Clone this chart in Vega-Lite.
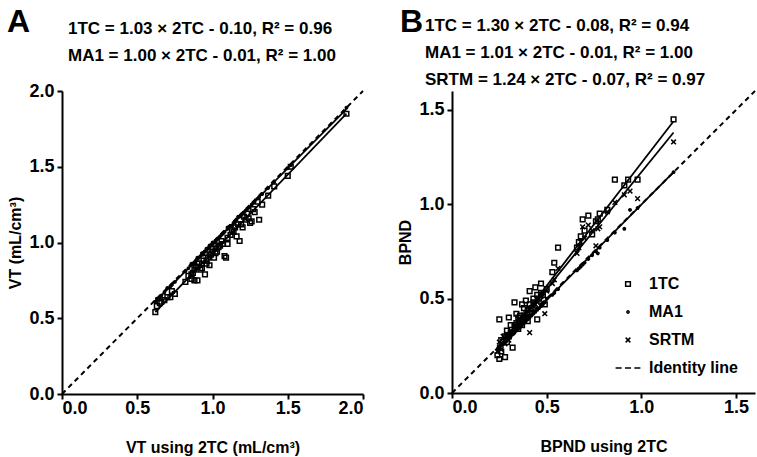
{
  "$schema": "https://vega.github.io/schema/vega-lite/v6.json",
  "padding": {"left": 7, "top": 5, "right": 0, "bottom": 3},
  "background": "white",
  "datasets": {
    "idA": [{"x": 0, "y": 0}, {"x": 2, "y": 2}],
    "idB": [{"x": 0, "y": 0}, {"x": 1.6, "y": 1.6}],
    "linesA": [
      {"s": "1TC", "x": 0.62, "y": 0.54}, {"s": "1TC", "x": 1.89, "y": 1.85},
      {"s": "MA1", "x": 0.62, "y": 0.61}, {"s": "MA1", "x": 1.89, "y": 1.88}
    ],
    "linesB": [
      {"s": "1TC", "x": 0.24, "y": 0.23}, {"s": "1TC", "x": 1.17, "y": 1.44},
      {"s": "MA1", "x": 0.24, "y": 0.23}, {"s": "MA1", "x": 1.17, "y": 1.17},
      {"s": "SRTM", "x": 0.24, "y": 0.23}, {"s": "SRTM", "x": 1.17, "y": 1.38}
    ],
    "ptsA": [
      {"s": "1TC", "x": 0.62, "y": 0.54}, {"s": "1TC", "x": 0.63, "y": 0.58}, {"s": "1TC", "x": 0.65, "y": 0.6},
      {"s": "1TC", "x": 0.66, "y": 0.61}, {"s": "1TC", "x": 0.68, "y": 0.62}, {"s": "1TC", "x": 0.7, "y": 0.64},
      {"s": "1TC", "x": 0.72, "y": 0.64}, {"s": "1TC", "x": 0.73, "y": 0.68}, {"s": "1TC", "x": 0.75, "y": 0.66},
      {"s": "1TC", "x": 0.82, "y": 0.74}, {"s": "1TC", "x": 0.84, "y": 0.78}, {"s": "1TC", "x": 0.86, "y": 0.76},
      {"s": "1TC", "x": 0.87, "y": 0.8}, {"s": "1TC", "x": 0.88, "y": 0.75}, {"s": "1TC", "x": 0.89, "y": 0.84},
      {"s": "1TC", "x": 0.9, "y": 0.75}, {"s": "1TC", "x": 0.91, "y": 0.86}, {"s": "1TC", "x": 0.92, "y": 0.82},
      {"s": "1TC", "x": 0.93, "y": 0.86}, {"s": "1TC", "x": 0.95, "y": 0.79}, {"s": "1TC", "x": 0.96, "y": 0.88},
      {"s": "1TC", "x": 0.97, "y": 0.9}, {"s": "1TC", "x": 0.98, "y": 0.85}, {"s": "1TC", "x": 0.99, "y": 0.92},
      {"s": "1TC", "x": 1.0, "y": 0.94}, {"s": "1TC", "x": 1.01, "y": 0.9}, {"s": "1TC", "x": 1.02, "y": 0.96},
      {"s": "1TC", "x": 1.03, "y": 0.94}, {"s": "1TC", "x": 1.05, "y": 0.98}, {"s": "1TC", "x": 1.07, "y": 0.99},
      {"s": "1TC", "x": 1.08, "y": 0.91}, {"s": "1TC", "x": 1.09, "y": 0.9}, {"s": "1TC", "x": 1.1, "y": 0.99},
      {"s": "1TC", "x": 1.12, "y": 1.05}, {"s": "1TC", "x": 1.14, "y": 1.07}, {"s": "1TC", "x": 1.16, "y": 1.04},
      {"s": "1TC", "x": 1.18, "y": 1.01}, {"s": "1TC", "x": 1.19, "y": 1.12}, {"s": "1TC", "x": 1.2, "y": 1.1},
      {"s": "1TC", "x": 1.22, "y": 1.15}, {"s": "1TC", "x": 1.24, "y": 1.16}, {"s": "1TC", "x": 1.25, "y": 1.13},
      {"s": "1TC", "x": 1.26, "y": 1.14}, {"s": "1TC", "x": 1.28, "y": 1.2}, {"s": "1TC", "x": 1.31, "y": 1.15},
      {"s": "1TC", "x": 1.33, "y": 1.25}, {"s": "1TC", "x": 1.37, "y": 1.31}, {"s": "1TC", "x": 1.41, "y": 1.37},
      {"s": "1TC", "x": 1.5, "y": 1.44}, {"s": "1TC", "x": 1.52, "y": 1.5}, {"s": "1TC", "x": 1.89, "y": 1.85},
      {"s": "1TC", "x": 0.86, "y": 0.79}, {"s": "1TC", "x": 0.88, "y": 0.82}, {"s": "1TC", "x": 0.9, "y": 0.84},
      {"s": "1TC", "x": 0.93, "y": 0.83}, {"s": "1TC", "x": 0.94, "y": 0.88}, {"s": "1TC", "x": 0.96, "y": 0.86},
      {"s": "1TC", "x": 0.98, "y": 0.92}, {"s": "1TC", "x": 1.0, "y": 0.96}, {"s": "1TC", "x": 1.02, "y": 0.93},
      {"s": "1TC", "x": 1.04, "y": 0.97}, {"s": "1TC", "x": 1.06, "y": 1.01}, {"s": "1TC", "x": 1.1, "y": 1.03},
      {"s": "1TC", "x": 1.13, "y": 1.08}, {"s": "1TC", "x": 1.15, "y": 1.1}, {"s": "1TC", "x": 1.17, "y": 1.12},
      {"s": "1TC", "x": 1.21, "y": 1.17}, {"s": "1TC", "x": 1.23, "y": 1.19}, {"s": "1TC", "x": 1.27, "y": 1.22},
      {"s": "1TC", "x": 1.3, "y": 1.27},
      {"s": "MA1", "x": 0.62, "y": 0.61}, {"s": "MA1", "x": 0.63, "y": 0.63}, {"s": "MA1", "x": 0.65, "y": 0.64},
      {"s": "MA1", "x": 0.66, "y": 0.65}, {"s": "MA1", "x": 0.68, "y": 0.67}, {"s": "MA1", "x": 0.7, "y": 0.7},
      {"s": "MA1", "x": 0.72, "y": 0.71}, {"s": "MA1", "x": 0.73, "y": 0.72}, {"s": "MA1", "x": 0.75, "y": 0.74},
      {"s": "MA1", "x": 0.82, "y": 0.81}, {"s": "MA1", "x": 0.84, "y": 0.83}, {"s": "MA1", "x": 0.86, "y": 0.85},
      {"s": "MA1", "x": 0.87, "y": 0.86}, {"s": "MA1", "x": 0.88, "y": 0.87}, {"s": "MA1", "x": 0.89, "y": 0.88},
      {"s": "MA1", "x": 0.9, "y": 0.89}, {"s": "MA1", "x": 0.91, "y": 0.9}, {"s": "MA1", "x": 0.92, "y": 0.91},
      {"s": "MA1", "x": 0.93, "y": 0.92}, {"s": "MA1", "x": 0.95, "y": 0.94}, {"s": "MA1", "x": 0.96, "y": 0.95},
      {"s": "MA1", "x": 0.97, "y": 0.96}, {"s": "MA1", "x": 0.98, "y": 0.97}, {"s": "MA1", "x": 0.99, "y": 0.98},
      {"s": "MA1", "x": 1.0, "y": 0.99}, {"s": "MA1", "x": 1.01, "y": 1.0}, {"s": "MA1", "x": 1.02, "y": 1.01},
      {"s": "MA1", "x": 1.03, "y": 1.02}, {"s": "MA1", "x": 1.05, "y": 1.04}, {"s": "MA1", "x": 1.07, "y": 1.06},
      {"s": "MA1", "x": 1.08, "y": 1.07}, {"s": "MA1", "x": 1.1, "y": 1.09}, {"s": "MA1", "x": 1.12, "y": 1.11},
      {"s": "MA1", "x": 1.14, "y": 1.13}, {"s": "MA1", "x": 1.16, "y": 1.15}, {"s": "MA1", "x": 1.18, "y": 1.17},
      {"s": "MA1", "x": 1.19, "y": 1.18}, {"s": "MA1", "x": 1.2, "y": 1.19}, {"s": "MA1", "x": 1.22, "y": 1.21},
      {"s": "MA1", "x": 1.24, "y": 1.23}, {"s": "MA1", "x": 1.26, "y": 1.25}, {"s": "MA1", "x": 1.28, "y": 1.27},
      {"s": "MA1", "x": 1.31, "y": 1.3}, {"s": "MA1", "x": 1.33, "y": 1.32}, {"s": "MA1", "x": 1.37, "y": 1.36},
      {"s": "MA1", "x": 1.41, "y": 1.4}, {"s": "MA1", "x": 1.5, "y": 1.49}, {"s": "MA1", "x": 1.52, "y": 1.51},
      {"s": "MA1", "x": 1.89, "y": 1.89},
      {"s": "MA1", "x": 0.86, "y": 0.86}, {"s": "MA1", "x": 0.88, "y": 0.86}, {"s": "MA1", "x": 0.9, "y": 0.9},
      {"s": "MA1", "x": 0.93, "y": 0.93}, {"s": "MA1", "x": 0.94, "y": 0.92}, {"s": "MA1", "x": 0.96, "y": 0.96},
      {"s": "MA1", "x": 0.98, "y": 0.98}, {"s": "MA1", "x": 1.0, "y": 1.0}, {"s": "MA1", "x": 1.02, "y": 1.0},
      {"s": "MA1", "x": 1.04, "y": 1.03}, {"s": "MA1", "x": 1.06, "y": 1.05}, {"s": "MA1", "x": 1.1, "y": 1.1},
      {"s": "MA1", "x": 1.13, "y": 1.11}, {"s": "MA1", "x": 1.15, "y": 1.14}, {"s": "MA1", "x": 1.17, "y": 1.17},
      {"s": "MA1", "x": 1.21, "y": 1.2}, {"s": "MA1", "x": 1.23, "y": 1.22}, {"s": "MA1", "x": 1.27, "y": 1.26},
      {"s": "MA1", "x": 1.3, "y": 1.29}
    ],
    "ptsB": [
      {"s": "1TC", "x": 0.24, "y": 0.2}, {"s": "1TC", "x": 0.25, "y": 0.39}, {"s": "1TC", "x": 0.25, "y": 0.18},
      {"s": "1TC", "x": 0.26, "y": 0.22}, {"s": "1TC", "x": 0.27, "y": 0.27}, {"s": "1TC", "x": 0.28, "y": 0.19},
      {"s": "1TC", "x": 0.28, "y": 0.3}, {"s": "1TC", "x": 0.29, "y": 0.27}, {"s": "1TC", "x": 0.3, "y": 0.4},
      {"s": "1TC", "x": 0.3, "y": 0.3}, {"s": "1TC", "x": 0.31, "y": 0.32}, {"s": "1TC", "x": 0.32, "y": 0.24},
      {"s": "1TC", "x": 0.33, "y": 0.48}, {"s": "1TC", "x": 0.33, "y": 0.36}, {"s": "1TC", "x": 0.34, "y": 0.37},
      {"s": "1TC", "x": 0.35, "y": 0.34}, {"s": "1TC", "x": 0.35, "y": 0.4}, {"s": "1TC", "x": 0.36, "y": 0.38},
      {"s": "1TC", "x": 0.37, "y": 0.47}, {"s": "1TC", "x": 0.37, "y": 0.36}, {"s": "1TC", "x": 0.38, "y": 0.41},
      {"s": "1TC", "x": 0.39, "y": 0.49}, {"s": "1TC", "x": 0.4, "y": 0.44}, {"s": "1TC", "x": 0.4, "y": 0.38},
      {"s": "1TC", "x": 0.41, "y": 0.54}, {"s": "1TC", "x": 0.42, "y": 0.45}, {"s": "1TC", "x": 0.43, "y": 0.48},
      {"s": "1TC", "x": 0.44, "y": 0.56}, {"s": "1TC", "x": 0.45, "y": 0.39}, {"s": "1TC", "x": 0.46, "y": 0.5},
      {"s": "1TC", "x": 0.47, "y": 0.58}, {"s": "1TC", "x": 0.48, "y": 0.52}, {"s": "1TC", "x": 0.49, "y": 0.47},
      {"s": "1TC", "x": 0.5, "y": 0.55}, {"s": "1TC", "x": 0.53, "y": 0.64}, {"s": "1TC", "x": 0.54, "y": 0.69},
      {"s": "1TC", "x": 0.56, "y": 0.77}, {"s": "1TC", "x": 0.66, "y": 0.77}, {"s": "1TC", "x": 0.67, "y": 0.8},
      {"s": "1TC", "x": 0.68, "y": 0.83}, {"s": "1TC", "x": 0.69, "y": 0.92}, {"s": "1TC", "x": 0.7, "y": 0.86},
      {"s": "1TC", "x": 0.72, "y": 0.94}, {"s": "1TC", "x": 0.74, "y": 0.84}, {"s": "1TC", "x": 0.76, "y": 0.91},
      {"s": "1TC", "x": 0.77, "y": 0.92}, {"s": "1TC", "x": 0.78, "y": 0.95}, {"s": "1TC", "x": 0.82, "y": 0.97},
      {"s": "1TC", "x": 0.86, "y": 1.13}, {"s": "1TC", "x": 0.91, "y": 1.1}, {"s": "1TC", "x": 0.93, "y": 1.13},
      {"s": "1TC", "x": 0.98, "y": 1.13}, {"s": "1TC", "x": 1.17, "y": 1.45},
      {"s": "1TC", "x": 0.26, "y": 0.28}, {"s": "1TC", "x": 0.29, "y": 0.33}, {"s": "1TC", "x": 0.31, "y": 0.36},
      {"s": "1TC", "x": 0.34, "y": 0.42}, {"s": "1TC", "x": 0.36, "y": 0.41}, {"s": "1TC", "x": 0.38, "y": 0.45},
      {"s": "1TC", "x": 0.41, "y": 0.47}, {"s": "1TC", "x": 0.43, "y": 0.5}, {"s": "1TC", "x": 0.45, "y": 0.52},
      {"s": "1TC", "x": 0.47, "y": 0.53},
      {"s": "MA1", "x": 0.24, "y": 0.23}, {"s": "MA1", "x": 0.25, "y": 0.24}, {"s": "MA1", "x": 0.25, "y": 0.25},
      {"s": "MA1", "x": 0.26, "y": 0.25}, {"s": "MA1", "x": 0.27, "y": 0.26}, {"s": "MA1", "x": 0.28, "y": 0.27},
      {"s": "MA1", "x": 0.28, "y": 0.28}, {"s": "MA1", "x": 0.29, "y": 0.28}, {"s": "MA1", "x": 0.3, "y": 0.29},
      {"s": "MA1", "x": 0.3, "y": 0.3}, {"s": "MA1", "x": 0.31, "y": 0.3}, {"s": "MA1", "x": 0.32, "y": 0.31},
      {"s": "MA1", "x": 0.33, "y": 0.32}, {"s": "MA1", "x": 0.33, "y": 0.33}, {"s": "MA1", "x": 0.34, "y": 0.33},
      {"s": "MA1", "x": 0.35, "y": 0.34}, {"s": "MA1", "x": 0.35, "y": 0.35}, {"s": "MA1", "x": 0.36, "y": 0.35},
      {"s": "MA1", "x": 0.37, "y": 0.36}, {"s": "MA1", "x": 0.37, "y": 0.37}, {"s": "MA1", "x": 0.38, "y": 0.37},
      {"s": "MA1", "x": 0.39, "y": 0.38}, {"s": "MA1", "x": 0.4, "y": 0.39}, {"s": "MA1", "x": 0.4, "y": 0.4},
      {"s": "MA1", "x": 0.41, "y": 0.4}, {"s": "MA1", "x": 0.42, "y": 0.41}, {"s": "MA1", "x": 0.43, "y": 0.42},
      {"s": "MA1", "x": 0.44, "y": 0.43}, {"s": "MA1", "x": 0.45, "y": 0.44}, {"s": "MA1", "x": 0.46, "y": 0.45},
      {"s": "MA1", "x": 0.47, "y": 0.46}, {"s": "MA1", "x": 0.48, "y": 0.47}, {"s": "MA1", "x": 0.49, "y": 0.48},
      {"s": "MA1", "x": 0.5, "y": 0.5}, {"s": "MA1", "x": 0.53, "y": 0.52}, {"s": "MA1", "x": 0.54, "y": 0.53},
      {"s": "MA1", "x": 0.56, "y": 0.55}, {"s": "MA1", "x": 0.66, "y": 0.65}, {"s": "MA1", "x": 0.67, "y": 0.66},
      {"s": "MA1", "x": 0.68, "y": 0.67}, {"s": "MA1", "x": 0.69, "y": 0.68}, {"s": "MA1", "x": 0.7, "y": 0.69},
      {"s": "MA1", "x": 0.72, "y": 0.71}, {"s": "MA1", "x": 0.74, "y": 0.73}, {"s": "MA1", "x": 0.76, "y": 0.75},
      {"s": "MA1", "x": 0.77, "y": 0.74}, {"s": "MA1", "x": 0.78, "y": 0.77}, {"s": "MA1", "x": 0.82, "y": 0.81},
      {"s": "MA1", "x": 0.86, "y": 0.85}, {"s": "MA1", "x": 0.91, "y": 0.87}, {"s": "MA1", "x": 0.94, "y": 0.97},
      {"s": "MA1", "x": 0.98, "y": 0.98}, {"s": "MA1", "x": 1.17, "y": 1.17},
      {"s": "MA1", "x": 0.26, "y": 0.26}, {"s": "MA1", "x": 0.29, "y": 0.29}, {"s": "MA1", "x": 0.31, "y": 0.31},
      {"s": "MA1", "x": 0.34, "y": 0.34}, {"s": "MA1", "x": 0.36, "y": 0.36}, {"s": "MA1", "x": 0.38, "y": 0.38},
      {"s": "MA1", "x": 0.41, "y": 0.41}, {"s": "MA1", "x": 0.43, "y": 0.43}, {"s": "MA1", "x": 0.45, "y": 0.45},
      {"s": "MA1", "x": 0.47, "y": 0.47},
      {"s": "SRTM", "x": 0.24, "y": 0.22}, {"s": "SRTM", "x": 0.25, "y": 0.24}, {"s": "SRTM", "x": 0.25, "y": 0.27},
      {"s": "SRTM", "x": 0.26, "y": 0.23}, {"s": "SRTM", "x": 0.27, "y": 0.3}, {"s": "SRTM", "x": 0.28, "y": 0.28},
      {"s": "SRTM", "x": 0.28, "y": 0.26}, {"s": "SRTM", "x": 0.29, "y": 0.29}, {"s": "SRTM", "x": 0.3, "y": 0.31},
      {"s": "SRTM", "x": 0.3, "y": 0.28}, {"s": "SRTM", "x": 0.31, "y": 0.33}, {"s": "SRTM", "x": 0.32, "y": 0.32},
      {"s": "SRTM", "x": 0.33, "y": 0.35}, {"s": "SRTM", "x": 0.33, "y": 0.34}, {"s": "SRTM", "x": 0.34, "y": 0.36},
      {"s": "SRTM", "x": 0.35, "y": 0.37}, {"s": "SRTM", "x": 0.35, "y": 0.39}, {"s": "SRTM", "x": 0.36, "y": 0.37},
      {"s": "SRTM", "x": 0.37, "y": 0.4}, {"s": "SRTM", "x": 0.37, "y": 0.38}, {"s": "SRTM", "x": 0.38, "y": 0.4},
      {"s": "SRTM", "x": 0.39, "y": 0.42}, {"s": "SRTM", "x": 0.4, "y": 0.43}, {"s": "SRTM", "x": 0.4, "y": 0.41},
      {"s": "SRTM", "x": 0.41, "y": 0.32}, {"s": "SRTM", "x": 0.42, "y": 0.45}, {"s": "SRTM", "x": 0.43, "y": 0.46},
      {"s": "SRTM", "x": 0.44, "y": 0.47}, {"s": "SRTM", "x": 0.45, "y": 0.48}, {"s": "SRTM", "x": 0.46, "y": 0.5},
      {"s": "SRTM", "x": 0.47, "y": 0.51}, {"s": "SRTM", "x": 0.48, "y": 0.53}, {"s": "SRTM", "x": 0.49, "y": 0.42},
      {"s": "SRTM", "x": 0.5, "y": 0.54}, {"s": "SRTM", "x": 0.53, "y": 0.58}, {"s": "SRTM", "x": 0.54, "y": 0.6},
      {"s": "SRTM", "x": 0.56, "y": 0.66}, {"s": "SRTM", "x": 0.66, "y": 0.74}, {"s": "SRTM", "x": 0.67, "y": 0.77},
      {"s": "SRTM", "x": 0.68, "y": 0.8}, {"s": "SRTM", "x": 0.69, "y": 0.88}, {"s": "SRTM", "x": 0.7, "y": 0.82},
      {"s": "SRTM", "x": 0.72, "y": 0.89}, {"s": "SRTM", "x": 0.74, "y": 0.86}, {"s": "SRTM", "x": 0.76, "y": 0.78},
      {"s": "SRTM", "x": 0.77, "y": 0.87}, {"s": "SRTM", "x": 0.78, "y": 0.88}, {"s": "SRTM", "x": 0.82, "y": 0.96},
      {"s": "SRTM", "x": 0.86, "y": 1.01}, {"s": "SRTM", "x": 0.91, "y": 1.05}, {"s": "SRTM", "x": 0.94, "y": 1.07},
      {"s": "SRTM", "x": 0.98, "y": 1.03}, {"s": "SRTM", "x": 1.17, "y": 1.33},
      {"s": "SRTM", "x": 0.26, "y": 0.26}, {"s": "SRTM", "x": 0.29, "y": 0.31}, {"s": "SRTM", "x": 0.31, "y": 0.32},
      {"s": "SRTM", "x": 0.34, "y": 0.35}, {"s": "SRTM", "x": 0.36, "y": 0.39}, {"s": "SRTM", "x": 0.38, "y": 0.41},
      {"s": "SRTM", "x": 0.41, "y": 0.44}, {"s": "SRTM", "x": 0.43, "y": 0.47}, {"s": "SRTM", "x": 0.45, "y": 0.49},
      {"s": "SRTM", "x": 0.47, "y": 0.52}
    ]
  },
  "config": {
    "font": "Liberation Sans",
    "view": {"stroke": null},
    "axis": {
      "grid": false, "domainColor": "black", "domainWidth": 2, "tickColor": "black", "tickWidth": 2, "tickSize": 5,
      "labelFont": "Liberation Sans", "labelFontSize": 18, "labelFontWeight": "bold", "labelColor": "black",
      "titleFont": "Liberation Sans", "titleFontSize": 16, "titleFontWeight": "bold", "titleColor": "black"
    },
    "axisX": {"labelPadding": 0, "titlePadding": 22},
    "axisY": {"labelPadding": 3, "titlePadding": 5},
    "title": {"font": "Liberation Sans", "fontWeight": "bold", "color": "black", "fontSize": 17, "lineHeight": 27},
    "legend": {
      "labelFont": "Liberation Sans", "labelFontSize": 16, "labelFontWeight": "bold", "labelColor": "black",
      "symbolStrokeWidth": 1.5, "symbolSize": 22, "rowPadding": 12, "labelOffset": 13
    }
  },
  "resolve": {"scale": {"shape": "independent", "stroke": "independent"}},
  "spacing": 89,
  "bounds": "flush",
  "hconcat": [
    {
      "width": 301, "height": 303,
      "title": {"text": ["1TC = 1.03 × 2TC - 0.10, R² = 0.96", "MA1 = 1.00 × 2TC - 0.01, R² = 1.00"], "anchor": "start", "frame": "group", "offset": -59, "dx": 6},
      "layer": [
        {
          "data": {"name": "idA"},
          "mark": {"type": "line", "color": "black", "strokeWidth": 2, "strokeDash": [5, 4]},
          "encoding": {
            "x": {"field": "x", "type": "quantitative", "scale": {"domain": [0, 2], "nice": false}, "axis": {"values": [0, 0.5, 1, 1.5, 2], "format": ".1f", "title": "VT using 2TC (mL/cm³)"}},
            "y": {"field": "y", "type": "quantitative", "scale": {"domain": [0, 2], "nice": false}, "axis": {"values": [0, 0.5, 1, 1.5, 2], "format": ".1f", "title": "VT (mL/cm³)"}}
          }
        },
        {
          "data": {"name": "ptsA"},
          "transform": [{"filter": {"field": "s", "equal": "1TC"}}],
          "mark": {"type": "point", "filled": false, "strokeWidth": 1.5, "size": 22, "opacity": 1},
          "encoding": {
            "x": {"field": "x", "type": "quantitative"},
            "y": {"field": "y", "type": "quantitative"},
            "shape": {"field": "s", "type": "nominal", "legend": null, "scale": {"domain": ["1TC", "MA1"], "range": ["square", "M-0.5,0A0.5,0.5 0 1,0 0.5,0A0.5,0.5 0 1,0 -0.5,0Z"]}},
            "stroke": {"field": "s", "type": "nominal", "legend": null, "scale": {"domain": ["1TC", "MA1"], "range": ["black", "black"]}}
          }
        },
        {
          "data": {"name": "ptsA"},
          "transform": [{"filter": {"field": "s", "equal": "MA1"}}],
          "mark": {"type": "point", "filled": false, "fill": "black", "strokeWidth": 1.5, "size": 22, "opacity": 1},
          "encoding": {
            "x": {"field": "x", "type": "quantitative"},
            "y": {"field": "y", "type": "quantitative"},
            "shape": {"field": "s", "type": "nominal", "legend": null},
            "stroke": {"field": "s", "type": "nominal", "legend": null}
          }
        },
        {
          "data": {"name": "linesA"},
          "mark": {"type": "line", "color": "black", "strokeWidth": 1.8},
          "encoding": {
            "x": {"field": "x", "type": "quantitative"},
            "y": {"field": "y", "type": "quantitative"},
            "detail": {"field": "s", "type": "nominal"}
          }
        },
        {
          "data": {"values": [{"panel": "A"}]},
          "mark": {"type": "text", "fontSize": 32, "fontWeight": "bold", "align": "left", "baseline": "alphabetic", "color": "black"},
          "encoding": {
            "x": {"datum": -0.365, "type": "quantitative", "scale": {"domain": [0, 2], "nice": false}},
            "y": {"datum": 2.39, "type": "quantitative", "scale": {"domain": [0, 2], "nice": false}},
            "text": {"field": "panel", "type": "nominal"}
          }
        }
      ]
    },
    {
      "width": 303, "height": 302,
      "title": {"text": ["1TC = 1.30 × 2TC - 0.08, R² = 0.94", "MA1 = 1.01 × 2TC - 0.01, R² = 1.00", "SRTM = 1.24 × 2TC - 0.07, R² = 0.97"], "anchor": "start", "frame": "group", "offset": -83, "dx": -27},
      "layer": [
        {
          "data": {"name": "idB"},
          "mark": {"type": "line", "color": "black", "strokeWidth": 2, "strokeDash": [5, 4]},
          "encoding": {
            "x": {"field": "x", "type": "quantitative", "scale": {"domain": [0, 1.6], "nice": false}, "axis": {"values": [0, 0.5, 1, 1.5], "format": ".1f", "title": "BPND using 2TC"}},
            "y": {"field": "y", "type": "quantitative", "scale": {"domain": [0, 1.6], "nice": false}, "axis": {"values": [0, 0.5, 1, 1.5], "format": ".1f", "title": "BPND"}}
          }
        },
        {
          "data": {"name": "ptsB"},
          "transform": [{"filter": {"field": "s", "equal": "1TC"}}],
          "mark": {"type": "point", "filled": false, "strokeWidth": 1.5, "size": 22, "opacity": 1},
          "encoding": {
            "x": {"field": "x", "type": "quantitative"},
            "y": {"field": "y", "type": "quantitative"},
            "shape": {"field": "s", "type": "nominal", "title": null,
              "scale": {"domain": ["1TC", "MA1", "SRTM", "Identity line"], "range": ["square", "M-0.5,0A0.5,0.5 0 1,0 0.5,0A0.5,0.5 0 1,0 -0.5,0Z", "M-1,-1L1,1M-1,1L1,-1", "M-5.3,0L-2.7,0M-1.3,0L1.3,0M2.7,0L5.3,0"]},
              "legend": {"orient": "bottom-right", "offset": 17, "title": null}},
            "stroke": {"field": "s", "type": "nominal", "title": null,
              "scale": {"domain": ["1TC", "MA1", "SRTM", "Identity line"], "range": ["black", "black", "black", "black"]},
              "legend": {"orient": "bottom-right", "offset": 17, "title": null}}
          }
        },
        {
          "data": {"name": "ptsB"},
          "transform": [{"filter": {"field": "s", "equal": "MA1"}}],
          "mark": {"type": "point", "filled": false, "fill": "black", "strokeWidth": 1.5, "size": 22, "opacity": 1},
          "encoding": {
            "x": {"field": "x", "type": "quantitative"},
            "y": {"field": "y", "type": "quantitative"},
            "shape": {"field": "s", "type": "nominal", "title": null},
            "stroke": {"field": "s", "type": "nominal", "title": null}
          }
        },
        {
          "data": {"name": "ptsB"},
          "transform": [{"filter": {"field": "s", "equal": "SRTM"}}],
          "mark": {"type": "point", "filled": false, "strokeWidth": 1.5, "size": 22, "opacity": 1},
          "encoding": {
            "x": {"field": "x", "type": "quantitative"},
            "y": {"field": "y", "type": "quantitative"},
            "shape": {"field": "s", "type": "nominal", "title": null},
            "stroke": {"field": "s", "type": "nominal", "title": null}
          }
        },
        {
          "data": {"name": "linesB"},
          "mark": {"type": "line", "color": "black", "strokeWidth": 1.8},
          "encoding": {
            "x": {"field": "x", "type": "quantitative"},
            "y": {"field": "y", "type": "quantitative"},
            "detail": {"field": "s", "type": "nominal"}
          }
        },
        {
          "data": {"values": [{"panel": "B"}]},
          "mark": {"type": "text", "fontSize": 32, "fontWeight": "bold", "align": "left", "baseline": "alphabetic", "color": "black"},
          "encoding": {
            "x": {"datum": -0.274, "type": "quantitative", "scale": {"domain": [0, 1.6], "nice": false}},
            "y": {"datum": 1.911, "type": "quantitative", "scale": {"domain": [0, 1.6], "nice": false}},
            "text": {"field": "panel", "type": "nominal"}
          }
        }
      ]
    }
  ]
}
